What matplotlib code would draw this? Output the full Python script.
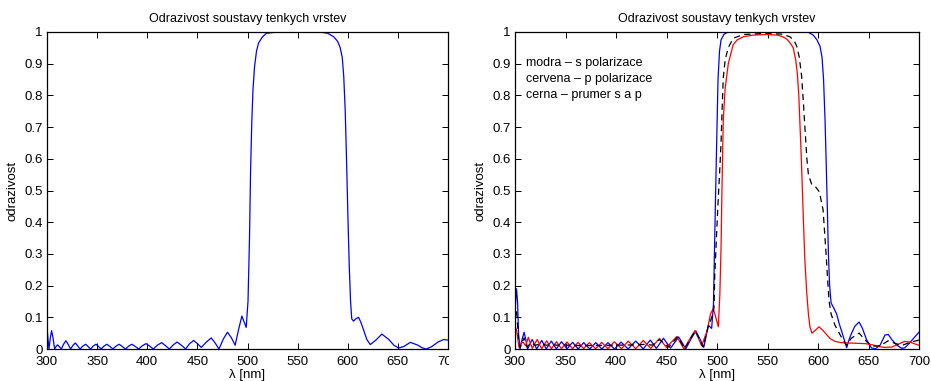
import numpy as np
import matplotlib
matplotlib.use("Agg")
import matplotlib.pyplot as plt
from matplotlib.patches import Rectangle

plt.rcParams['font.family'] = ['Liberation Sans', 'DejaVu Sans']

# levy graf - odrazivost (jedna krivka)
lam_a = [300, 301, 302, 303.3, 304.6, 306, 307.6, 309, 310.6, 312.5,
         314.3, 316.5, 318.9, 321.2, 323.5, 325.8, 328.2, 330.6, 333, 335.7,
         338.5, 341, 343.4, 346, 348.8, 351.4, 354, 356.8, 359.7, 362.7,
         365.7, 368.8, 372, 375, 378.3, 381.5, 384.6, 388, 391.5, 395,
         398.8, 402.5, 406, 410, 414.4, 418, 422, 426, 429.7, 434,
         438.3, 442, 446.3, 450, 453.9, 459, 463.8, 467.5, 471.5, 476,
         480, 484, 487.7, 491, 494.4, 498.7, 500.5, 502, 503, 504.3,
         505.5, 507, 509, 511, 515, 519, 530, 550, 572, 580,
         586, 590, 592.5, 594.5, 596, 597.5, 599, 600.3, 601.5, 602.8,
         604, 605.8, 608, 610.8, 613, 615.8, 619, 622.5, 628, 634,
         641, 646, 650.8, 656, 662.4, 670, 674, 678.4, 684, 690,
         695.7, 700]
R_a = [0.07, 0.03, 0.0, 0.035, 0.058, 0.035, 0.0, 0.008, 0.013, 0.007,
       0.0, 0.015, 0.026, 0.014, 0.0, 0.011, 0.019, 0.01, 0.0, 0.009,
       0.015, 0.008, 0.0, 0.009, 0.015, 0.008, 0.0, 0.009, 0.015, 0.008,
       0.0, 0.009, 0.015, 0.008, 0.0, 0.009, 0.015, 0.008, 0.0, 0.01,
       0.017, 0.009, 0.0, 0.012, 0.02, 0.011, 0.0, 0.013, 0.022, 0.012,
       0.0, 0.016, 0.027, 0.017, 0.005, 0.022, 0.035, 0.02, 0.0, 0.032,
       0.053, 0.035, 0.012, 0.06, 0.104, 0.068, 0.15, 0.35, 0.55, 0.72,
       0.82, 0.89, 0.94, 0.965, 0.985, 0.996, 1.0, 1.0, 1.0, 0.996,
       0.985, 0.97, 0.95, 0.92, 0.86, 0.75, 0.57, 0.4, 0.26, 0.15,
       0.095, 0.088, 0.095, 0.1, 0.085, 0.06, 0.03, 0.014, 0.028, 0.047,
       0.03, 0.012, 0.003, 0.008, 0.021, 0.012, 0.004, 0.0, 0.008, 0.022,
       0.03, 0.028]

# pravy graf - s polarizace (modra)
lam_s = [300, 301.5, 302.5, 303.5, 305, 307, 309, 310.8, 312.5, 314.8,
         317, 319.3, 321.5, 324, 326.5, 328.8, 331, 333.5, 336, 338.5,
         341, 343.5, 346, 348.8, 351.5, 354.3, 357, 359.8, 362.5, 365.3,
         368, 371, 374, 377, 380, 383, 386, 389, 392, 395.3,
         398.5, 401.8, 405, 408.5, 412, 415.8, 419.5, 423.3, 427, 430.5,
         434, 437, 440, 443.5, 447, 450.5, 454, 458, 462, 465.5,
         469, 474, 479, 483, 487, 491.4, 494.7, 496.5, 497.8, 499,
         500, 501, 502.5, 504, 507, 511, 590, 595.3, 599, 602,
         604, 605.5, 607, 608, 609.2, 610.3, 611.5, 613, 615.5, 618.5,
         621, 623.5, 628.4, 630.8, 633.3, 636.5, 640.7, 644, 648, 653,
         657, 661.5, 666.3, 669.5, 673, 678, 683, 686, 691, 695,
         700]
R_s = [0.12, 0.19, 0.15, 0.05, 0.0, 0.03, 0.053, 0.028, 0.0, 0.016,
       0.03, 0.015, 0.0, 0.014, 0.027, 0.013, 0.0, 0.013, 0.025, 0.012,
       0.0, 0.012, 0.023, 0.012, 0.0, 0.011, 0.021, 0.011, 0.0, 0.01,
       0.02, 0.01, 0.0, 0.01, 0.02, 0.01, 0.0, 0.01, 0.02, 0.01,
       0.0, 0.011, 0.022, 0.011, 0.0, 0.013, 0.025, 0.013, 0.0, 0.015,
       0.028, 0.015, 0.002, 0.018, 0.034, 0.018, 0.003, 0.02, 0.038, 0.02,
       0.0, 0.03, 0.057, 0.032, 0.006, 0.075, 0.065, 0.14, 0.36, 0.55,
       0.7, 0.85, 0.94, 0.975, 0.993, 1.0, 1.0, 0.99, 0.975, 0.955,
       0.92, 0.85, 0.72, 0.6, 0.45, 0.3, 0.2, 0.145, 0.13, 0.11,
       0.08, 0.055, 0.004, 0.03, 0.05, 0.072, 0.085, 0.065, 0.03, 0.003,
       0.001, 0.012, 0.044, 0.046, 0.03, 0.012, 0.002, 0.004, 0.02, 0.035,
       0.053]

# p polarizace (cervena)
lam_p = [300, 301.5, 304, 306, 308, 310.5, 313.2, 315.2, 317.2, 319.6,
         322, 324.2, 326.4, 328.9, 331.4, 333.7, 336, 338.5, 341, 343.5,
         346, 348.8, 351.5, 354.3, 357, 359.7, 362.4, 365.2, 368, 370.8,
         373.6, 376.8, 380, 382.9, 385.8, 388.9, 392, 395.2, 398.3, 401.9,
         405.5, 408.8, 412, 415.8, 419.5, 423.3, 427, 430.8, 434.5, 438.8,
         443, 446.5, 450, 455, 460, 463.7, 467.3, 472.8, 478.2, 481.5,
         484.8, 490.5, 493.5, 496.3, 498.8, 501.3, 502.8, 504, 505, 506.2,
         508, 511.2, 516, 520, 526, 535, 549, 560, 565, 569,
         572.5, 575.5, 578, 579.5, 581, 582, 583.5, 585.5, 587, 588.8,
         590.5, 592, 594, 597, 601, 604.5, 608.6, 612, 616.8, 623,
         630, 646.5, 653, 659.7, 666, 673, 680, 686, 691, 696,
         700]
R_p = [0.072, 0.06, 0.005, 0.018, 0.022, 0.01, 0.037, 0.018, 0.002, 0.017,
       0.03, 0.015, 0.001, 0.014, 0.026, 0.013, 0.001, 0.012, 0.023, 0.012,
       0.001, 0.012, 0.022, 0.011, 0.001, 0.011, 0.021, 0.011, 0.001, 0.011,
       0.02, 0.01, 0.001, 0.011, 0.021, 0.011, 0.001, 0.012, 0.023, 0.012,
       0.001, 0.013, 0.025, 0.013, 0.001, 0.014, 0.027, 0.014, 0.002, 0.018,
       0.033, 0.019, 0.005, 0.022, 0.039, 0.02, 0.0, 0.03, 0.058, 0.035,
       0.01, 0.06, 0.11, 0.128, 0.1, 0.07, 0.17, 0.32, 0.52, 0.72,
       0.82, 0.9, 0.96, 0.975, 0.985, 0.99, 0.992, 0.99, 0.985, 0.978,
       0.965, 0.95, 0.91, 0.87, 0.8, 0.72, 0.6, 0.41, 0.28, 0.18,
       0.11, 0.07, 0.05, 0.058, 0.07, 0.06, 0.045, 0.033, 0.024, 0.02,
       0.019, 0.017, 0.014, 0.008, 0.005, 0.006, 0.016, 0.024, 0.022, 0.016,
       0.012]

# prumer s a p (cerna, carkovana)
lam_m = [300, 301.5, 303.5, 305, 309, 312, 316, 320, 326, 331,
         336, 341, 346, 351.5, 360, 380, 400, 420, 430, 436,
         439.5, 443, 447.5, 452, 456.5, 461, 464.5, 468, 473, 478.5,
         482.5, 486.3, 491, 494.5, 497, 497.8, 499, 500, 501, 502.5,
         504, 505, 506.2, 508, 511, 516, 526, 550, 565, 572,
         576, 579, 581.5, 583.8, 585.5, 587, 589, 590.5, 593.7, 598,
         601.5, 603.6, 605, 606.5, 608, 609.5, 611, 613, 616.8, 621,
         625, 628.4, 633, 640.7, 648, 653, 661.5, 669.5, 676, 683,
         691, 700]
R_m = [0.1, 0.125, 0.03, 0.005, 0.035, 0.006, 0.02, 0.012, 0.016, 0.012,
       0.014, 0.012, 0.013, 0.012, 0.011, 0.011, 0.012, 0.013, 0.015, 0.012,
       0.02, 0.03, 0.018, 0.006, 0.022, 0.038, 0.02, 0.001, 0.03, 0.057,
       0.032, 0.006, 0.068, 0.097, 0.13, 0.235, 0.32, 0.39, 0.46, 0.55,
       0.65, 0.75, 0.855, 0.91, 0.95, 0.98, 0.992, 0.996, 0.993, 0.985,
       0.975, 0.955, 0.92, 0.86, 0.78, 0.7, 0.6, 0.55, 0.52, 0.51,
       0.495, 0.46, 0.44, 0.37, 0.3, 0.22, 0.15, 0.11, 0.075, 0.05,
       0.027, 0.012, 0.034, 0.05, 0.024, 0.009, 0.01, 0.026, 0.018, 0.011,
       0.021, 0.028]

legend_lines = ["modra \u2013 s polarizace",
                "cervena \u2013 p polarizace",
                "cerna \u2013 prumer s a p"]

xticks = np.arange(300, 701, 50)
yticks = np.arange(0, 1.01, 0.1)
ytick_labels = ["0", "0.1", "0.2", "0.3", "0.4", "0.5", "0.6", "0.7", "0.8", "0.9", "1"]

fig = plt.figure(figsize=(9.31, 3.81), dpi=100)
ax1 = fig.add_axes([47/931, 1 - 349/381, 401/931, 317/381])
ax2 = fig.add_axes([515/931, 1 - 349/381, 404/931, 317/381])


def style(ax):
    ax.set_xlim(300, 700)
    ax.set_ylim(0, 1)
    ax.set_xticks(xticks)
    ax.set_yticks(yticks)
    ax.set_yticklabels(ytick_labels)
    ax.tick_params(direction='in', top=True, right=True, length=4, width=0.7,
                   labelsize=9.5, pad=3)
    ax.tick_params(axis='x', pad=5)
    for sp in ax.spines.values():
        sp.set_linewidth(0.9)
    ax.set_title("Odrazivost soustavy tenkych vrstev", fontsize=9, pad=7)
    ax.set_xlabel("\u03bb [nm]", fontsize=9.5, labelpad=1)
    ax.set_ylabel("odrazivost", fontsize=9.5, labelpad=4)


ax1.plot(lam_a, R_a, color='#0000ff', lw=0.9)
style(ax1)

ax2.plot(lam_s, R_s, color='#0000ff', lw=0.9)
ax2.plot(lam_p, R_p, color='#ff0000', lw=0.9)
ax2.plot(lam_m, R_m, color='black', lw=0.9, dashes=(5, 3.5))
style(ax2)
for i, txt in enumerate(legend_lines):
    ax2.text(311, 0.902 - 0.051 * i, txt, fontsize=9, va='center', ha='left')

# popisek 700 na levem grafu je v originale oriznuty
fig.canvas.draw()
clip = Rectangle((0, 0), 449/931, 1, transform=fig.transFigure)
for lbl in ax1.get_xticklabels():
    lbl.set_clip_path(clip)
    lbl.set_clip_on(True)

fig.savefig("out.png", dpi=100)
